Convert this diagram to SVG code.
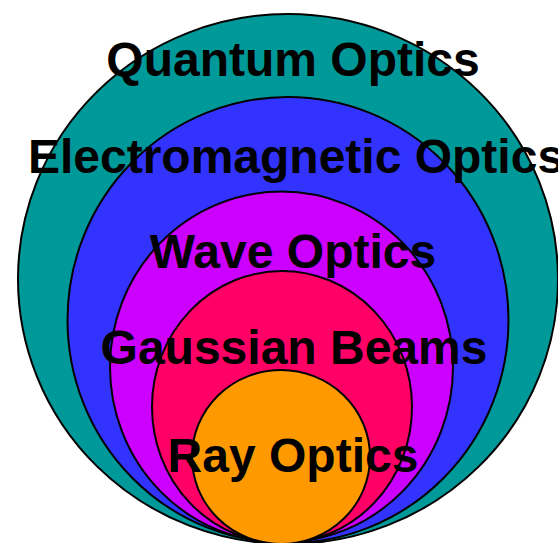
<svg xmlns="http://www.w3.org/2000/svg" width="558" height="543" viewBox="0 0 558 543">
<style>
.ring{stroke:#000;stroke-width:2}
.lbl{font-family:"Liberation Sans",Arial,sans-serif;font-weight:bold;font-size:48px;fill:#000;text-anchor:middle}
</style>
<rect width="558" height="543" fill="#fff"/>
<g id="quantum"><ellipse class="ring" cx="288" cy="279" rx="270" ry="265" fill="#009999"/></g>
<g id="electromagnetic"><ellipse class="ring" cx="288" cy="320" rx="220.5" ry="223" fill="#3333FF"/></g>
<g id="wave"><ellipse class="ring" cx="281.5" cy="367" rx="171.5" ry="175.5" fill="#CC00FF"/></g>
<g id="gaussian"><ellipse class="ring" cx="282" cy="407" rx="130" ry="136" fill="#FF0066"/></g>
<g id="ray"><ellipse class="ring" cx="281" cy="457" rx="89" ry="87" fill="#FF9900"/></g>
<g id="labels">
<text class="lbl" x="293" y="76">Quantum Optics</text>
<text class="lbl" x="296" y="173">Electromagnetic Optics</text>
<text class="lbl" x="293" y="268">Wave Optics</text>
<text class="lbl" x="294" y="364">Gaussian Beams</text>
<text class="lbl" x="293" y="472">Ray Optics</text>
</g>
<g id="connectors"/>
</svg>
